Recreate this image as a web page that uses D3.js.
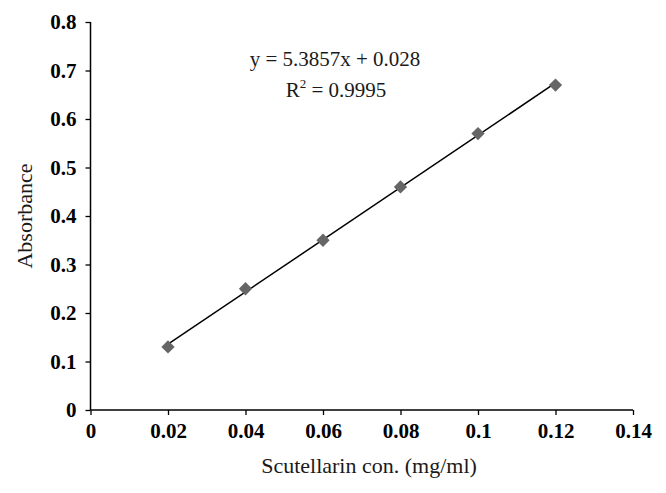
<!DOCTYPE html>
<html><head><meta charset="utf-8">
<script src="https://cdn.jsdelivr.net/npm/d3@7"></script>
<style>body{margin:0;background:#fff}svg{display:block}</style>
</head><body>
<script>
const concentrations = [0.02, 0.04, 0.06, 0.08, 0.10, 0.12];
const absorbance = [0.13, 0.25, 0.35, 0.46, 0.57, 0.67];
const xTicks = [0, 0.02, 0.04, 0.06, 0.08, 0.10, 0.12, 0.14];
const xTickLabels = ["0", "0.02", "0.04", "0.06", "0.08", "0.1", "0.12", "0.14"];
const yTicks = [0, 0.1, 0.2, 0.3, 0.4, 0.5, 0.6, 0.7, 0.8];
const yTickLabels = ["0", "0.1", "0.2", "0.3", "0.4", "0.5", "0.6", "0.7", "0.8"];
const slope = 5.3857, intercept = 0.028;
const equationText = "y = 5.3857x + 0.028";
const r2Value = "0.9995";

const W = 666, H = 493;
const svg = d3.select("body").append("svg").attr("width", W).attr("height", H);
const x = d3.scaleLinear().domain([0, 0.14]).range([90.5, 633]);
const y = d3.scaleLinear().domain([0, 0.8]).range([410, 22]);
const serif = "'Liberation Serif', 'DejaVu Serif', serif";
const txt = "#1a1a1a";

// y axis
const ya = svg.append("g").attr("transform", `translate(${x(0)},0)`)
  .call(d3.axisLeft(y).tickValues(yTicks).tickSize(5).tickPadding(9)
    .tickFormat((d, i) => yTickLabels[i]));
ya.select(".domain").attr("stroke", "#000").attr("stroke-width", 1.5).attr("d", `M0,${y(0.8)}V${y(0)}`);
ya.selectAll(".tick line").attr("stroke", "#000").attr("stroke-width", 1.3);
ya.selectAll(".tick text").attr("font-family", serif).attr("font-weight", "bold")
  .attr("font-size", 21).attr("fill", "#000");

// x axis
const xa = svg.append("g").attr("transform", `translate(0,${y(0)})`)
  .call(d3.axisBottom(x).tickValues(xTicks).tickSize(5).tickPadding(8)
    .tickFormat((d, i) => xTickLabels[i]));
xa.select(".domain").attr("stroke", "#000").attr("stroke-width", 1.5).attr("d", `M${x(0)},0H${x(0.14)}`);
xa.selectAll(".tick line").attr("stroke", "#000").attr("stroke-width", 1.3);
xa.selectAll(".tick text").attr("font-family", serif).attr("font-weight", "bold")
  .attr("font-size", 21).attr("fill", "#000");

// trendline
const x0 = d3.min(concentrations), x1 = d3.max(concentrations);
svg.append("line")
  .attr("x1", x(x0)).attr("y1", y(slope * x0 + intercept))
  .attr("x2", x(x1)).attr("y2", y(slope * x1 + intercept))
  .attr("stroke", "#000").attr("stroke-width", 1.5);

// markers
svg.append("g").selectAll("path").data(concentrations).join("path")
  .attr("d", d3.symbol(d3.symbolSquare, 88)())
  .attr("transform", (d, i) => `translate(${x(d)},${y(absorbance[i])}) rotate(45)`)
  .attr("fill", "#666");

// equation
const eq = svg.append("g").attr("font-family", serif).attr("font-size", 21).attr("fill", txt).attr("text-anchor", "middle");
eq.append("text").attr("x", 335).attr("y", 66).text(equationText);
const r2 = eq.append("text").attr("x", 336).attr("y", 97);
r2.append("tspan").text("R");
r2.append("tspan").attr("font-size", 13).attr("dy", -9).text("2");
r2.append("tspan").attr("dy", 9).text(" = " + r2Value);

// axis titles
svg.append("text").attr("x", 369).attr("y", 473).attr("text-anchor", "middle")
  .attr("font-family", serif).attr("font-size", 22).attr("fill", txt)
  .text("Scutellarin con. (mg/ml)");
svg.append("text").attr("transform", "translate(32,216) rotate(-90)").attr("text-anchor", "middle")
  .attr("font-family", serif).attr("font-size", 22).attr("fill", txt)
  .text("Absorbance");
</script>
</body></html>
